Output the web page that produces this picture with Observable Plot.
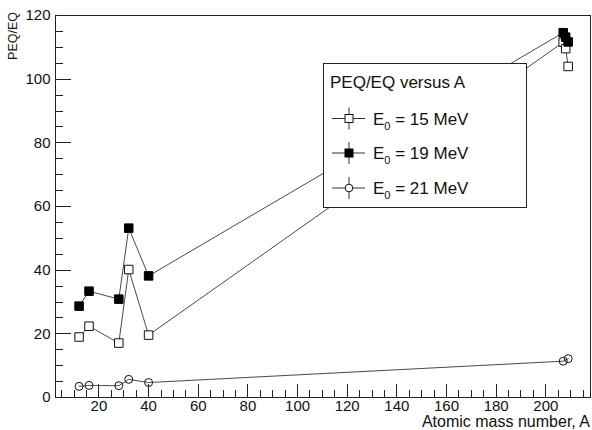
<!DOCTYPE html>
<html><head><meta charset="utf-8">
<script src="https://cdn.jsdelivr.net/npm/d3@7"></script>
<script src="https://cdn.jsdelivr.net/npm/@observablehq/plot@0.6"></script>
<style>
body{margin:0;background:#fff;}
svg{font-family:"Liberation Sans",Arial,Helvetica,sans-serif;}
</style>
</head><body><div id="chart"></div>
<script>
// Data
const massA15 = [12, 16, 28, 32, 40, 207, 208, 209];
const peq15   = [19.0, 22.4, 17.1, 40.2, 19.6, 111.6, 109.6, 104.0];
const massA19 = [12, 16, 28, 32, 40, 207, 208, 209];
const peq19   = [28.7, 33.4, 30.9, 53.2, 38.2, 114.6, 113.2, 111.7];
const massA21 = [12, 16, 28, 32, 40, 207, 209];
const peq21   = [3.5, 3.8, 3.7, 5.7, 4.7, 11.4, 12.2];
const energies = ["15", "19", "21"];
const xTickLabels = [20, 40, 60, 80, 100, 120, 140, 160, 180, 200];
const yTickLabels = [0, 20, 40, 60, 80, 100, 120];
const legendTitle = "PEQ/EQ versus A";
const xTitle = "Atomic mass number, A";
const yTitle = "PEQ/EQ";

const mk = (as, vs, e) => as.map((a, i) => ({A: a, v: vs[i], E: e}));
const s15 = mk(massA15, peq15, "15");
const s19 = mk(massA19, peq19, "19");
const s21 = mk(massA21, peq21, "21");

const W = 592, H = 430;
const mL = 55, mR = 2, mT = 15, mB = 33;
const xMinor = d3.range(5, 218, 5);
const yMinor = d3.range(5, 120, 5);

const lineStyle = {stroke: "#4a4a4a", strokeWidth: 1};

const plot = Plot.plot({
  width: W, height: H,
  marginLeft: mL, marginRight: mR, marginTop: mT, marginBottom: mB,
  style: {fontFamily: '"Liberation Sans", Arial, sans-serif', fontSize: "15px", color: "#111", background: "#fff"},
  x: {domain: [2.5, 218], label: null},
  y: {domain: [0, 120], label: null},
  marks: [
    Plot.line(s15, {x: "A", y: "v", ...lineStyle}),
    Plot.line(s19, {x: "A", y: "v", ...lineStyle}),
    Plot.line(s21, {x: "A", y: "v", ...lineStyle}),
    Plot.dot(s15, {x: "A", y: "v", symbol: "square", r: 4.8, fill: "white", stroke: "#111", strokeWidth: 1}),
    Plot.dot(s19, {x: "A", y: "v", symbol: "square", r: 4.8, fill: "#000", stroke: "#000", strokeWidth: 1}),
    Plot.dot(s21, {x: "A", y: "v", symbol: "circle", r: 4, fill: "none", stroke: "#111", strokeWidth: 1}),
    Plot.axisX({ticks: xTickLabels, tickSize: 0, tickPadding: 3, label: null, fontSize: 15}),
    Plot.axisY({ticks: yTickLabels, tickSize: 0, tickPadding: 5, label: null, fontSize: 15}),
    Plot.frame({stroke: "#222", strokeWidth: 1})
  ]
});
document.getElementById("chart").appendChild(plot);

const svg = d3.select(plot);
const xs = plot.scale("x"), ys = plot.scale("y");
const x0 = mL, y0 = H - mB;
// inward ticks drawn with the plot's own scales
const tg = svg.append("g").attr("stroke", "#222").attr("stroke-width", 1);
xMinor.forEach(v => {
  const major = xTickLabels.includes(v);
  const px = Math.round(xs.apply(v)) + 0.5;
  tg.append("line").attr("x1", px).attr("x2", px).attr("y1", y0).attr("y2", y0 - (major ? 13 : 7));
});
yMinor.forEach(v => {
  const major = yTickLabels.includes(v);
  const py = Math.round(ys.apply(v)) + 0.5;
  tg.append("line").attr("x1", x0).attr("x2", x0 + (major ? 16 : 8)).attr("y1", py).attr("y2", py);
});

// axis titles
svg.append("text").attr("x", 590).attr("y", 427).attr("text-anchor", "end")
  .attr("font-size", 16).attr("fill", "#111").text(xTitle);
svg.append("text").attr("transform", "translate(17,12) rotate(-90)").attr("text-anchor", "end")
  .attr("font-size", 12.5).attr("fill", "#111").text(yTitle);

// legend
const lg = svg.append("g").attr("text-anchor", "start");
lg.append("rect").attr("x", 323.5).attr("y", 63.5).attr("width", 203).attr("height", 144)
  .attr("fill", "white").attr("stroke", "#222").attr("stroke-width", 1);
lg.append("text").attr("x", 330).attr("y", 88).attr("font-size", 17).attr("fill", "#111").text(legendTitle);
const rowY = [118.5, 153, 188];
const sym = [
  g => g.append("rect").attr("x", -4).attr("y", -4).attr("width", 8).attr("height", 8).attr("fill", "white").attr("stroke", "#111"),
  g => g.append("rect").attr("x", -4).attr("y", -4).attr("width", 8).attr("height", 8).attr("fill", "#000").attr("stroke", "#000"),
  g => g.append("circle").attr("r", 3.8).attr("fill", "white").attr("stroke", "#111")
];
energies.forEach((e, i) => {
  const g = lg.append("g").attr("transform", `translate(349,${rowY[i]})`);
  g.append("line").attr("x1", -17).attr("x2", 16).attr("stroke", "#333");
  g.append("line").attr("y1", -11).attr("y2", 11).attr("stroke", "#333");
  sym[i](g);
  const t = lg.append("text").attr("x", 373).attr("y", rowY[i] + 6).attr("font-size", 17).attr("fill", "#111");
  t.append("tspan").attr("fill", "#111").text("E");
  t.append("tspan").attr("fill", "#111").attr("font-size", 11).attr("dy", 5).text("0");
  t.append("tspan").attr("fill", "#111").attr("dy", -5).text(` = ${e} MeV`);
});
</script>
</body></html>
